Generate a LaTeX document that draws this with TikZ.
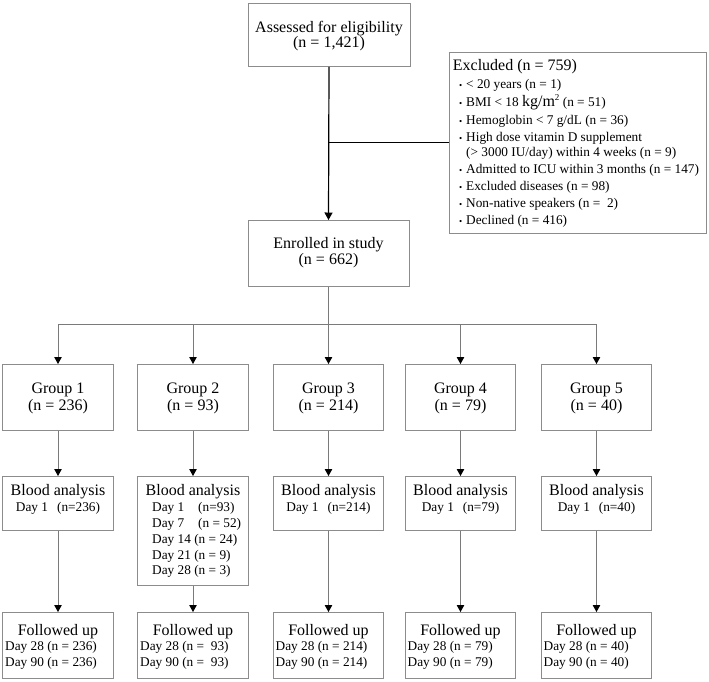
\documentclass[tikz,border=0pt]{standalone}
\usepackage{fontspec}
\setmainfont{Liberation Serif}
\usetikzlibrary{arrows.meta,calc}
\definecolor{boxgray}{HTML}{8C8C8C}
\definecolor{linegray}{HTML}{7A7A7A}
\newcommand\bigfnt{\fontsize{16}{16}\selectfont}
\newcommand\smfnt{\fontsize{13.3}{13.3}\selectfont}
\tikzset{
  box/.style={draw=boxgray, line width=0.9pt, minimum width=110.5pt, inner sep=0pt, anchor=north},
  bigtxt/.style={inner sep=0pt, font=\bigfnt, text=black},
  smtxt/.style={inner sep=0pt, font=\smfnt, text=black},
  arr/.style={draw=linegray, line width=0.9pt, -{Triangle[width=7.5pt,length=7pt,color=black,fill=black]}},
  plainline/.style={draw=linegray, line width=0.9pt},
  mainarr/.style={draw=black, line width=1.2pt, -{Triangle[width=8pt,length=7.5pt,color=black,fill=black]}},
  mainline/.style={draw=black, line width=1pt},
}
\begin{document}
\begin{tikzpicture}[x=1pt,y=-1pt]
\useasboundingbox (0,0) rectangle (709,681);

% top box
\node[box, minimum width=162pt, minimum height=63pt] (assess) at (329,3) {};
\node[bigtxt, anchor=base] (assessA) at (329,32) {Assessed for eligibility};
\node[bigtxt, anchor=base] (assessB) at (329,47.5) {(n = 1,421)};

% excluded box
\node[draw=boxgray, line width=0.9pt, inner sep=0pt, anchor=north west, minimum width=257pt, minimum height=181pt] (excl) at (449,52) {};
\node[bigtxt, anchor=base west] (exH) at (452.7,70) {Excluded (n = 759)};
\foreach \k/\y/\t in {
  1/88/{< 20 years (n = 1)},
  2/106/{BMI < 18 {\bigfnt kg/m\raisebox{5.5pt}{\fontsize{9}{9}\selectfont 2}} (n = 51)},
  3/124/{Hemoglobin < 7 g/dL (n = 36)},
  4/141/{High dose vitamin D supplement},
  6/173/{Admitted to ICU within 3 months (n = 147)},
  7/190/{Excluded diseases (n = 98)},
  8/207/{Non-native speakers (n =\ \ 2)},
  9/224/{Declined (n = 416)}}{
  \node[smtxt, anchor=base, font=\fontsize{9}{9}\selectfont] (exb\k) at (460.7,\y) {•};
  \node[smtxt, anchor=base west] (ex\k) at (466,\y) {\t};
}
\node[smtxt, anchor=base west] (ex5) at (466,156.5) {(> 3000 IU/day) within 4 weeks (n = 9)};

% enrolled
\node[box, minimum width=161pt, minimum height=66pt] (enrol) at (328.5,220) {};
\node[bigtxt, anchor=base] (enrolA) at (328.5,248.3) {Enrolled in study};
\node[bigtxt, anchor=base] (enrolB) at (328.5,264.5) {(n = 662)};

% connectors top
\draw[mainarr] (assess.south) -- (enrol.north);
\coordinate (j) at (328.5,142.5);
\draw[mainline] (j) -- (excl.west |- j);
\coordinate (br) at (328.5,324);

% groups
\foreach \i/\cx/\n in {1/58/236, 2/193/93, 3/328.5/214, 4/460.5/79, 5/596.5/40}{
  \node[box, minimum height=66pt] (g\i) at (\cx,364) {};
  \node[bigtxt, anchor=base] (gA\i) at (\cx,393.5) {Group \i};
  \node[bigtxt, anchor=base] (gB\i) at (\cx,410) {(n = \n)};
  \draw[arr] (br -| g\i.north) -- (g\i.north);
}
\draw[plainline] (enrol.south) -- (br);
\draw[plainline] (br -| g1.north) -- (br -| g5.north);

% blood analysis
\foreach \i/\cx/\n in {1/58/236, 3/328.5/214, 4/460.5/79, 5/596.5/40}{
  \node[box, minimum height=54pt] (b\i) at (\cx,476) {};
  \node[bigtxt, anchor=base] (bA\i) at (\cx,495) {Blood analysis};
  \node[smtxt, anchor=base] (bB\i) at (\cx,511.7) {Day 1\hspace{9pt}(n=\n)};
}
\node[box, minimum height=109pt] (b2) at (193,476) {};
\node[bigtxt, anchor=base] (bA2) at (193,495) {Blood analysis};
\node[smtxt, anchor=base west] (bB2) at (152,511.7) {\makebox[46pt][l]{Day 1}(n=93)};
\node[smtxt, anchor=base west] (bC2) at (152,527.5) {\makebox[46pt][l]{Day 7}(n = 52)};
\node[smtxt, anchor=base west] (bD2) at (152,543.3) {Day 14 (n = 24)};
\node[smtxt, anchor=base west] (bE2) at (152,559.1) {Day 21 (n = 9)};
\node[smtxt, anchor=base west] (bF2) at (152,574.9) {Day 28 (n = 3)};

% followed up
\foreach \i/\cx/\fu in {1/58/236, 2/193/{\ 93}, 3/328.5/214, 4/460.5/79, 5/596.5/40}{
  \node[box, minimum height=66pt] (f\i) at (\cx,612) {};
  \node[bigtxt, anchor=base] (fA\i) at (\cx,635) {Followed up};
  \node[smtxt, anchor=base west] (fB\i) at ($(\cx,0)+(-53,650.7)$) {Day 28 (n = \fu)};
  \node[smtxt, anchor=base west] (fC\i) at ($(\cx,0)+(-53,666)$) {Day 90 (n = \fu)};
  \draw[arr] (g\i.south) -- (b\i.north);
  \draw[arr] (b\i.south) -- (f\i.north);
}
\end{tikzpicture}
\end{document}
